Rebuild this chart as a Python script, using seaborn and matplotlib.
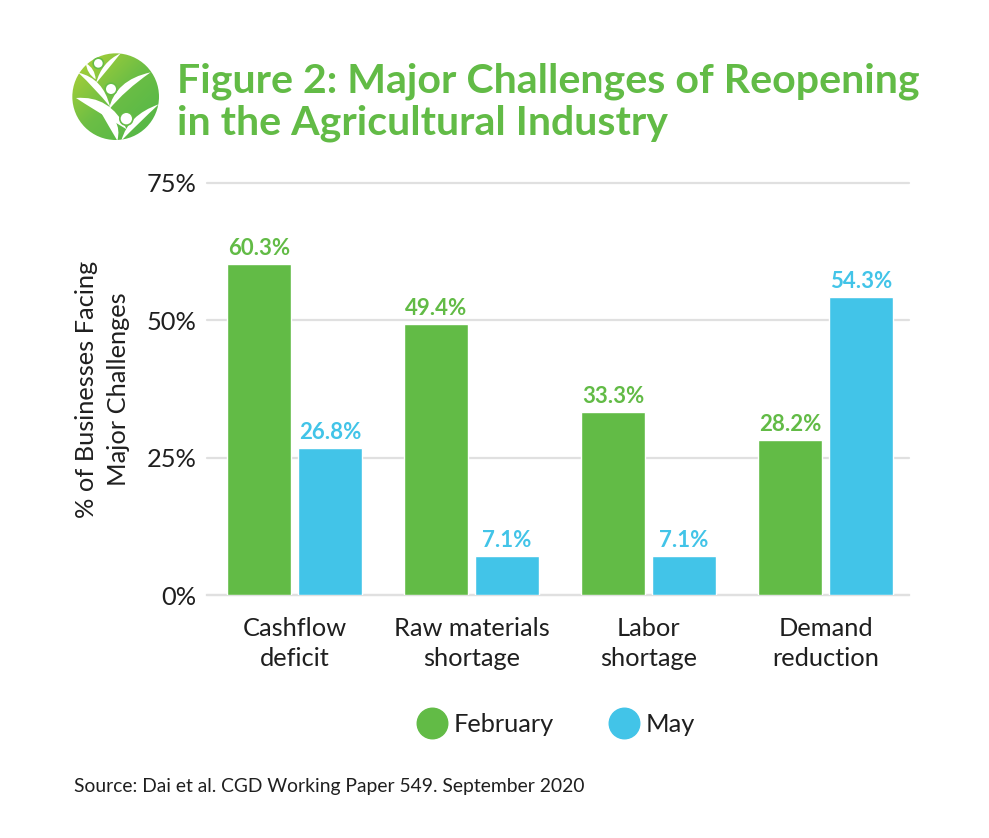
#!/usr/bin/env python3
"""Major challenges of reopening, agricultural industry."""
import matplotlib
matplotlib.use("Agg")
import matplotlib.pyplot as plt
import numpy as np
import pandas as pd
import seaborn as sns
from matplotlib.colors import LinearSegmentedColormap
from matplotlib.lines import Line2D
from matplotlib.patches import Circle, PathPatch
from matplotlib.path import Path

categories = ["Cashflow\ndeficit", "Raw materials\nshortage", "Labor\nshortage", "Demand\nreduction"]
february = [60.3, 49.4, 33.3, 28.2]
may = [26.8, 7.1, 7.1, 54.3]
y_ticks = [0, 25, 50, 75]

GREEN = "#62BB46"
BLUE = "#42C4E8"
INK = "#1f1f1f"
W, H = 989, 838

sns.set_theme(style="white")
plt.rcParams["font.family"] = ["Lato", "DejaVu Sans"]


def px_axes(fig, x0, y0, x1, y1, **kw):
    return fig.add_axes([x0 / W, 1 - y1 / H, (x1 - x0) / W, (y1 - y0) / H], **kw)


def swoosh(ax, start, c1, end, c2):
    # leaf shape: two quadratic curves between the tips
    verts = [start, c1, end, c2, start, start]
    codes = [Path.MOVETO, Path.CURVE3, Path.CURVE3, Path.CURVE3, Path.CURVE3, Path.CLOSEPOLY]
    ax.add_patch(PathPatch(Path(verts, codes), fc="white", ec="none"))


def draw_logo(fig):
    # coordinates here follow a 600x360 grid laid over the logo area
    ax = px_axes(fig, 60, 40, 260, 160)
    ax.axis("off")
    cmap = LinearSegmentedColormap.from_list("logo", ["#B5D334", "#6CBE45", "#4FB648"])
    grad = np.add.outer(np.linspace(0, 1, 200), np.linspace(0, 1, 200))
    im = ax.imshow(grad, extent=(37, 297, 300, 40), cmap=cmap, aspect="auto", zorder=0)
    ax.set_xlim(0, 600)
    ax.set_ylim(360, 0)
    im.set_clip_path(Circle((167, 170), 130, transform=ax.transData))
    swoosh(ax, (48, 174), (150, 165), (200, 268), (95, 205))
    swoosh(ax, (110, 195), (190, 235), (172, 302), (150, 265))
    swoosh(ax, (184, 302), (205, 225), (296, 193), (235, 250))
    swoosh(ax, (55, 98), (130, 115), (150, 200), (105, 145))
    swoosh(ax, (146, 210), (165, 120), (272, 97), (195, 150))
    swoosh(ax, (108, 130), (125, 65), (182, 40), (150, 80))
    swoosh(ax, (78, 70), (105, 85), (107, 118), (80, 100))
    for cx, cy, r in [(115, 70, 13), (153, 147, 15), (199, 236, 17)]:
        ax.add_patch(Circle((cx, cy), r + 5, fc=(0.40, 0.74, 0.28), ec="none"))
        ax.add_patch(Circle((cx, cy), r, fc="white", ec="none"))


df = pd.DataFrame({
    "category": categories * 2,
    "month": ["February"] * 4 + ["May"] * 4,
    "value": february + may,
})

fig = plt.figure(figsize=(W / 100, H / 100), dpi=100)
ax = px_axes(fig, 207, 183, 909, 595)
sns.barplot(
    data=df, x="category", y="value", hue="month", ax=ax,
    palette={"February": GREEN, "May": BLUE}, width=0.802, gap=0.0986,
    saturation=1, legend=False, zorder=3,
)
ax.set_xlim(-0.494, 3.472)
ax.set_ylim(0, 75)
ax.set_yticks(y_ticks, [f"{t}%" for t in y_ticks])
ax.set_xlabel("")
ax.set_ylabel("% of Businesses Facing\nMajor Challenges", fontsize=18.3, color=INK, labelpad=12.5, linespacing=1.45)
ax.tick_params(axis="both", length=0, labelsize=18.3, labelcolor=INK)
ax.tick_params(axis="x", pad=15.5)
ax.tick_params(axis="y", pad=7.3)
ax.grid(axis="y", color="#e0e0e0", linewidth=1.6, zorder=0)
ax.set_axisbelow(True)
for line in ax.get_ygridlines():
    line.set_clip_on(False)
sns.despine(ax=ax, left=True, top=True, right=True)
ax.spines["bottom"].set_color("#e0e0e0")
ax.spines["bottom"].set_linewidth(1.6)
for label in ax.get_xticklabels():
    label.set_linespacing(1.39)

for container, color in zip(ax.containers, [GREEN, BLUE]):
    ax.bar_label(container, fmt="%.1f%%", color=color, fontsize=16, fontweight="bold", padding=3.5)

handles = [
    Line2D([], [], marker="o", linestyle="", color=GREEN, markersize=22),
    Line2D([], [], marker="o", linestyle="", color=BLUE, markersize=22),
]
fig.legend(handles, ["February", "May"], ncol=2, frameon=False, fontsize=18.3,
           loc="center", bbox_to_anchor=(557 / W, 1 - 724 / H), handlelength=1,
           handletextpad=0.35, columnspacing=2.26, labelcolor=INK)

fig.text(177 / W, 1 - 92 / H, "Figure 2: Major Challenges of Reopening", color=GREEN,
         fontsize=29.6, fontweight="bold", va="baseline")
fig.text(177 / W, 1 - 135 / H, "in the Agricultural Industry", color=GREEN,
         fontsize=29.6, fontweight="bold", va="baseline")
fig.text(74 / W, 1 - 792 / H, "Source: Dai et al. CGD Working Paper 549. September 2020",
         color=INK, fontsize=13.9, va="baseline")

draw_logo(fig)
fig.savefig("out.png", dpi=100)
